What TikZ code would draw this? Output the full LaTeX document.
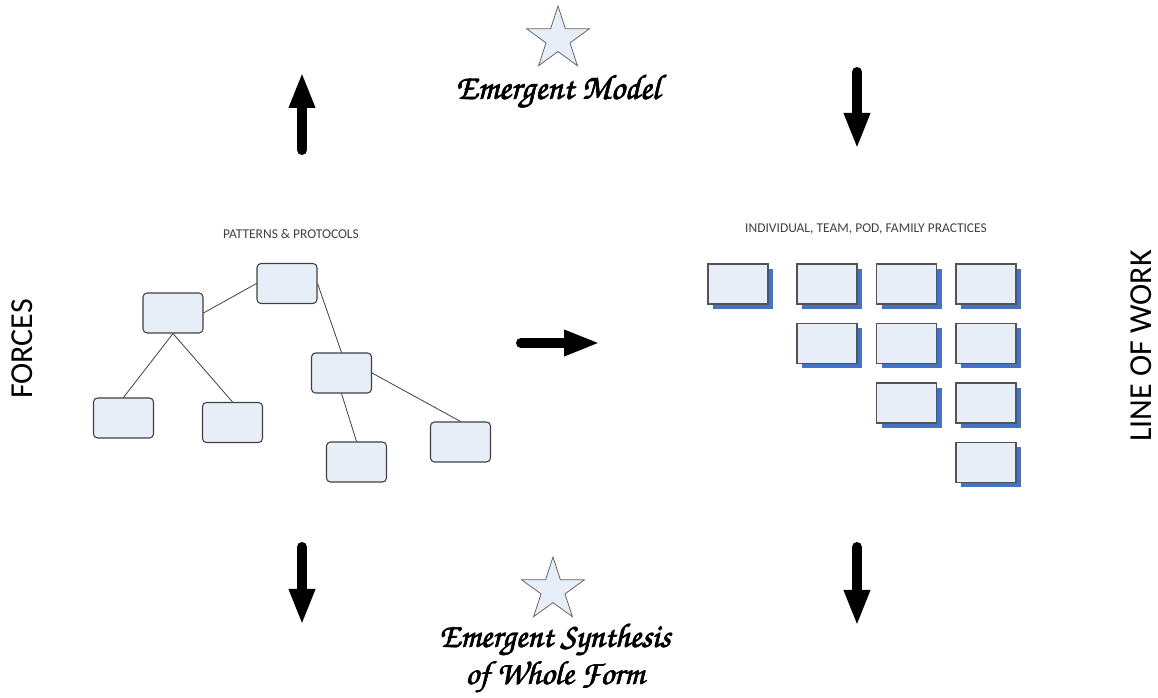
\documentclass[tikz,border=0pt]{standalone}
\usepackage[T1]{fontenc}
\usepackage{fontspec}
\setmainfont{Carlito}
\usetikzlibrary{shapes.geometric,shadows,arrows.meta}
\definecolor{boxfill}{HTML}{E8EEF7}
\definecolor{boxline}{HTML}{404040}
\definecolor{shadowblue}{HTML}{4472C4}
\definecolor{labelgray}{HTML}{404040}
\newcommand{\chanceryfont}{\fontencoding{T1}\fontfamily{pzc}\fontseries{mb}\fontshape{it}\selectfont}
% heavier script strokes: the same line set three times, slightly offset
\newcommand{\heavy}[1]{\rlap{#1}\kern0.3pt\rlap{#1}\kern0.3pt\rlap{\raisebox{0.25pt}{#1}}#1}
\tikzset{
  treebox/.style={draw=boxline, fill=boxfill, line width=0.8pt, rounded corners=3pt,
    minimum width=45pt, minimum height=30pt, inner sep=0pt},
  gridbox/.style={draw=boxline!90, fill=boxfill, line width=0.9pt,
    minimum width=45pt, minimum height=30pt, inner sep=0pt,
    drop shadow={shadow xshift=3.75pt, shadow yshift=-3.75pt, fill=shadowblue, opacity=1}},
  link/.style={draw=boxline, line width=0.6pt},
  bigarrow/.style={line width=7.5pt, line cap=round, -{Triangle[length=27pt,width=18pt]}},
  starmark/.style={star, star points=5, star point ratio=2.618, minimum size=49.5pt,
    inner sep=0pt, draw=boxline!80, fill=boxfill, line width=0.6pt},
  caption/.style={font=\fontsize{10.1}{12}\selectfont, text=labelgray},
  sidelabel/.style={font=\fontsize{24}{28}\selectfont, rotate=90, inner sep=0pt,
    text depth=0pt, anchor=south},
  scripttext/.style={font=\fontsize{26}{28}\chanceryfont, align=center}
}
\begin{document}
\begin{tikzpicture}[x=0.75pt, y=-0.75pt]
  \useasboundingbox (0,0) rectangle (1158,698);

  % titles with stars
  \node[starmark] (topstar) at (558,39) {};
  \node[scripttext] (model) at (558,92) {\heavy{Emergent Model}};
  \node[starmark] (botstar) at (553,590) {};
  \node[scripttext, font=\fontsize{25}{28}\chanceryfont] (synth) at (555,659)
    {\heavy{Emergent Synthesis}\\\heavy{of Whole Form}};

  % side labels
  \node[sidelabel] (forces) at (33,349) {FORCES};
  \node[sidelabel] (work) at (1152,346) {LINE OF WORK};

  % tree of patterns and protocols
  \node[caption] (pp) at (291,234) {PATTERNS \& PROTOCOLS};
  \node[treebox] (root) at (287,283.5) {};
  \node[treebox] (lm) at (173,313) {};
  \node[treebox] (l1) at (123.5,418) {};
  \node[treebox] (l2) at (232.5,422.5) {};
  \node[treebox] (rm) at (341.5,373) {};
  \node[treebox] (r1) at (356.5,462) {};
  \node[treebox] (r2) at (460.5,442) {};
  \draw[link] (root.west) -- (lm.east);
  \draw[link] (lm.south) -- (l1.north);
  \draw[link] (lm.south) -- (l2.north);
  \draw[link] (root.east) -- (rm.north);
  \draw[link] (rm.south) -- (r1.north);
  \draw[link] (rm.east) -- (r2.north);

  % grid of practices
  \node[caption] (ip) at (866,229) {INDIVIDUAL, TEAM, POD, FAMILY PRACTICES};
  \node[gridbox] (g11) at (738,284) {};
  \node[gridbox] (g12) at (827,284) {};
  \node[gridbox] (g13) at (906.5,284) {};
  \node[gridbox] (g14) at (986,284) {};
  \node[gridbox] (g22) at (827,343.5) {};
  \node[gridbox] (g23) at (906.5,343.5) {};
  \node[gridbox] (g24) at (986,343.5) {};
  \node[gridbox] (g33) at (906.5,403) {};
  \node[gridbox] (g34) at (986,403) {};
  \node[gridbox] (g44) at (986,462.5) {};

  % block arrows
  \draw[bigarrow] (302,150) -- (302,72);
  \draw[bigarrow] (857,72) -- (857,149);
  \draw[bigarrow] (521,343) -- (600,343);
  \draw[bigarrow] (302,547) -- (302,625);
  \draw[bigarrow] (857,547) -- (857,626);
\end{tikzpicture}
\end{document}
